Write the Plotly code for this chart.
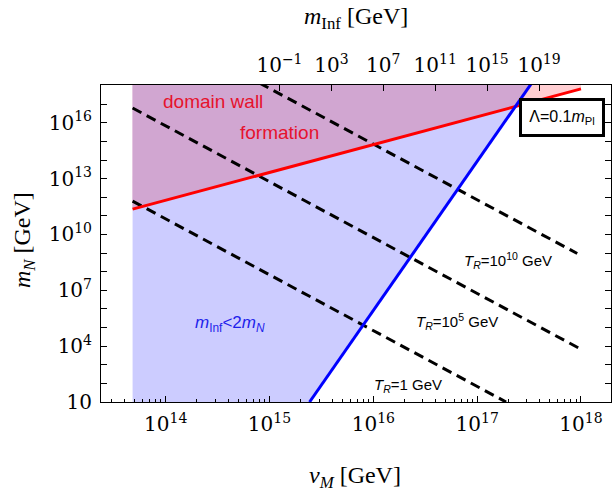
import numpy as np
import plotly.graph_objects as go

# ---------------- data ----------------
# axis extents (log10 of GeV)
vM_axis_log = [13.377, 18.289]
mN_axis_log = [1.0, 18.03]

# lower edge of the shaded/plotted region in v_M
vM_min = 4.8e13

# domain-wall formation boundary (red line)
red_vM = [4.8e13, 1.0e18]
red_mN = [2.3e11, 6.6e17]

# m_Inf = 2 m_N boundary (blue line)
blue_vM = [2.43e15, 3.73e17]
blue_mN = [10.0, 3.2e18]

# reheating temperature contours (dashed)
TR_names = ["1", "10<sup>5</sup>", "10<sup>10</sup>"]
TR1_vM = [4.8e13, 1.9e17]
TR1_mN = [6.2e11, 10.0]
TR5_vM = [4.8e13, 1.0e18]
TR5_mN = [6.2e16, 6.8e3]
TR10_vM = [4.8e13, 9.2e17]
TR10_mN = [6.2e21, 9.5e8]

# ticks
vM_ticks = [1e14, 1e15, 1e16, 1e17, 1e18]
mN_ticks = [1e1, 1e4, 1e7, 1e10, 1e13, 1e16]
mInf_ticks = [1e-1, 1e3, 1e7, 1e11, 1e15, 1e19]
mInf_tick_exp = ["\u22121", "3", "7", "11", "15", "19"]

# top-axis relation: m_Inf scales as v_M^8, m_Inf = 0.1 GeV at v_M = 10^15.096
mInf_power = 8
mInf_ref_logv = 15.096
mInf_ref_logm = -1.0

Y_FILL_TOP = 1e19

# ---------------- colours ----------------
C_BLUE_FILL = "rgb(204,204,255)"
C_PINK_FILL = "rgb(255,206,210)"
C_PURPLE_FILL = "rgb(209,166,209)"

def loglin(xs, ys):
    lx, ly = np.log10(xs), np.log10(ys)
    s = (ly[1] - ly[0]) / (lx[1] - lx[0])
    return s, ly[0] - s * lx[0]

sr, cr = loglin(red_vM, red_mN)
sb, cb = loglin(blue_vM, blue_mN)
lx_int = (cb - cr) / (sr - sb)
v_int, m_int = 10 ** lx_int, 10 ** (sr * lx_int + cr)
v_blue_top = 10 ** ((np.log10(Y_FILL_TOP) - cb) / sb)

fig = go.Figure()

# blue region m_Inf < 2 m_N
fig.add_trace(go.Scatter(
    x=[vM_min, blue_vM[0], v_blue_top, vM_min, vM_min],
    y=[blue_mN[0], blue_mN[0], Y_FILL_TOP, Y_FILL_TOP, blue_mN[0]],
    fill="toself", fillcolor=C_BLUE_FILL, line=dict(width=0), mode="lines",
    hoverinfo="skip", showlegend=False))
# pink region (domain walls)
fig.add_trace(go.Scatter(
    x=[red_vM[0], red_vM[1], red_vM[1], red_vM[0], red_vM[0]],
    y=[red_mN[0], red_mN[1], Y_FILL_TOP, Y_FILL_TOP, red_mN[0]],
    fill="toself", fillcolor=C_PINK_FILL, line=dict(width=0), mode="lines",
    hoverinfo="skip", showlegend=False))
# overlap
fig.add_trace(go.Scatter(
    x=[red_vM[0], v_int, v_blue_top, red_vM[0], red_vM[0]],
    y=[red_mN[0], m_int, Y_FILL_TOP, Y_FILL_TOP, red_mN[0]],
    fill="toself", fillcolor=C_PURPLE_FILL, line=dict(width=0), mode="lines",
    hoverinfo="skip", showlegend=False))

dash = "10px,6px"
for xs, ys in [(TR1_vM, TR1_mN), (TR5_vM, TR5_mN), (TR10_vM, TR10_mN)]:
    fig.add_trace(go.Scatter(x=xs, y=ys, mode="lines",
                             line=dict(color="black", width=3, dash=dash),
                             hoverinfo="skip", showlegend=False))

fig.add_trace(go.Scatter(x=red_vM, y=red_mN, mode="lines",
                         line=dict(color="rgb(255,0,0)", width=3),
                         hoverinfo="skip", showlegend=False))
fig.add_trace(go.Scatter(x=blue_vM, y=blue_mN, mode="lines",
                         line=dict(color="rgb(0,0,255)", width=3),
                         hoverinfo="skip", showlegend=False))

# invisible trace to activate top axis
fig.add_trace(go.Scatter(x=[1.0], y=[100.0], xaxis="x2", mode="markers",
                         marker=dict(opacity=0), hoverinfo="skip", showlegend=False))

def minor_vals(lo, hi):
    out = []
    for e in range(int(np.floor(lo)), int(np.ceil(hi)) + 1):
        for d in range(2, 10):
            v = d * 10.0 ** e
            if lo <= np.log10(v) <= hi:
                out.append(v)
    return out

serif = "Liberation Serif"
sans = "Liberation Sans"
tickfont = dict(family="DejaVu Serif", size=20, color="black")

top_range = [mInf_power * (r - mInf_ref_logv) + mInf_ref_logm for r in vM_axis_log]

fig.update_layout(
    width=612, height=493,
    margin=dict(l=101, r=1, t=85, b=91),
    plot_bgcolor="white", paper_bgcolor="white",
    xaxis=dict(type="log", range=vM_axis_log, tickvals=vM_ticks,
               ticktext=["10<sup>%d</sup>" % round(np.log10(v)) for v in vM_ticks],
               ticks="inside", ticklen=6, tickwidth=1, tickcolor="black",
               showline=True, linecolor="black", linewidth=1, mirror=True,
               showgrid=False, zeroline=False, tickfont=tickfont,
               ticklabelstandoff=4,
               minor=dict(tickvals=minor_vals(*vM_axis_log), ticks="inside",
                          ticklen=3, tickcolor="black", showgrid=False)),
    xaxis2=dict(type="log", range=top_range, overlaying="x", side="top",
                tickvals=mInf_ticks,
                ticktext=["10<sup>%s</sup>" % e for e in mInf_tick_exp],
                ticks="inside", ticklen=6, tickcolor="black",
                ticklabelstandoff=8,
                showline=False, showgrid=False, zeroline=False, tickfont=tickfont),
    yaxis=dict(type="log", range=mN_axis_log, tickvals=mN_ticks,
               ticktext=["10" if v == 10 else "10<sup>%d</sup>" % round(np.log10(v)) for v in mN_ticks],
               ticks="inside", ticklen=6, tickwidth=1, tickcolor="black",
               showline=True, linecolor="black", linewidth=1, mirror="allticks",
               showgrid=False, zeroline=False, tickfont=tickfont,
               ticklabelstandoff=4,
               minor=dict(tickvals=[10.0 ** e for e in range(2, 19) if 10.0 ** e not in mN_ticks],
                          ticks="inside", ticklen=3, tickcolor="black", showgrid=False)),
)

def ann(x, y, text, size, color, family=sans, **kw):
    fig.add_annotation(x=x, y=y, xref="x", yref="y", text=text, showarrow=False,
                       xanchor="center", yanchor="middle",
                       font=dict(family=family, size=size, color=color), **kw)

red_txt = "rgb(230,18,45)"
ann(14.46, 17.13, "domain wall", 19, red_txt)
ann(15.10, 15.46, "formation", 19, red_txt)
ann(14.62, 5.18, "<i>m</i><sub>Inf</sub>&lt;2<i>m</i><sub><i>N</i></sub>", 17, "rgb(30,30,235)")
ann(17.30, 8.60, "<i>T</i><sub><i>R</i></sub>=%s GeV" % TR_names[2], 15, "black")
ann(16.81, 5.30, "<i>T</i><sub><i>R</i></sub>=%s GeV" % TR_names[1], 15, "black")
ann(16.33, 1.90, "<i>T</i><sub><i>R</i></sub>=%s GeV" % TR_names[0], 15, "black")
ann(17.818, 16.31, "\u039b=0.1<i>m</i><sub>Pl</sub>", 16, "black",
    bgcolor="white", bordercolor="black", borderwidth=3, borderpad=0,
    width=80, height=33)

def title(x, y, text, angle=0):
    fig.add_annotation(x=x, y=y, xref="paper", yref="paper", text=text, showarrow=False,
                       xanchor="center", yanchor="middle",
                       textangle=angle, font=dict(family=serif, size=24, color="black"))

title(0.498, -0.2366, "<i>v</i><sub><i>M</i></sub> [GeV]")
title(0.500, 1.211, "<i>m</i><sub>Inf</sub> [GeV]")
title(-0.151, 0.511, "<i>m</i><sub><i>N</i></sub> [GeV]", angle=-90)

fig.write_html("out.html")
